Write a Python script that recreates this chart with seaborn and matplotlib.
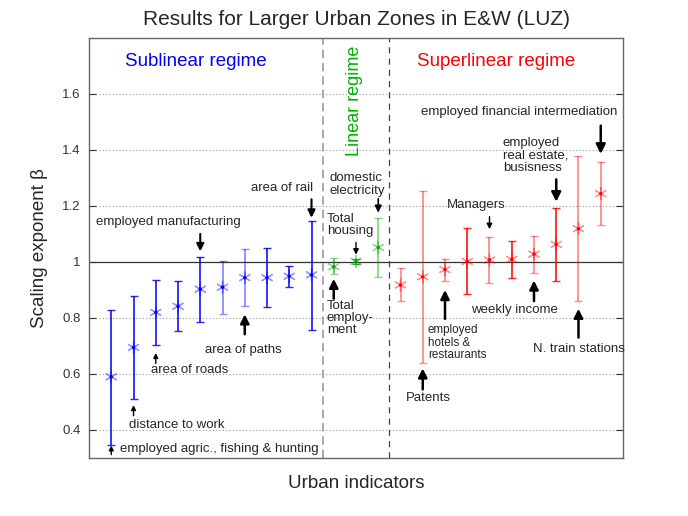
import numpy as np
import pandas as pd
import matplotlib
matplotlib.use("Agg")
import matplotlib.pyplot as plt
import seaborn as sns

# valores (23 indicadores urbanos)
indicador = list(range(1, 24))
beta = [0.59, 0.695, 0.82, 0.842, 0.903, 0.91, 0.944, 0.944, 0.949, 0.954,
        0.983, 1.002, 1.052,
        0.918, 0.947, 0.973, 1.002, 1.007, 1.009, 1.028, 1.063, 1.119, 1.244]
beta_inf = [0.347, 0.511, 0.705, 0.753, 0.785, 0.816, 0.842, 0.839, 0.911, 0.758,
            0.957, 0.992, 0.947,
            0.859, 0.64, 0.933, 0.886, 0.924, 0.943, 0.961, 0.933, 0.861, 1.132]
beta_sup = [0.83, 0.879, 0.934, 0.931, 1.019, 1.003, 1.045, 1.05, 0.986, 1.146,
            1.014, 1.012, 1.158,
            0.979, 1.252, 1.011, 1.122, 1.091, 1.075, 1.092, 1.194, 1.377, 1.357]
regimen = ["sub"] * 10 + ["lin"] * 3 + ["super"] * 10

# estilo (barras claras u oscuras como en el original)
claro = [0, 0, 0, 0, 0, 1, 1, 0, 0, 0,
         1, 0, 1,
         1, 1, 1, 0, 1, 0, 1, 0, 1, 1]
colores = {"sub": "#0000ff", "lin": "#00a000", "super": "#ff0000"}

datos = pd.DataFrame({"x": indicador, "beta": beta, "inf": beta_inf,
                      "sup": beta_sup, "regimen": regimen, "claro": claro})

sns.set_style("white")
plt.rcParams["font.family"] = ["Liberation Sans", "DejaVu Sans"]

fig = plt.figure(figsize=(6.88, 5.16), dpi=100)
ax = fig.add_axes([0.1294, 0.1124, 0.7761, 0.814])

# grilla punteada
for y in [0.4, 0.6, 0.8, 1.2, 1.4, 1.6]:
    ax.axhline(y, color="#999999", lw=0.8, ls=(0, (1, 2)), zorder=0)
ax.axhline(1.0, color="#333333", lw=0.9, zorder=1)
ax.axvline(10.5, color="#999999", lw=1.2, ls=(0, (5, 3)), zorder=1)
ax.axvline(13.5, color="#444444", lw=0.9, ls=(0, (5, 4)), zorder=1)

# barras de error
for _, fila in datos.iterrows():
    c = colores[fila["regimen"]]
    a = 0.45 if fila["claro"] else 0.85
    ax.errorbar(fila["x"], fila["beta"],
                yerr=[[fila["beta"] - fila["inf"]], [fila["sup"] - fila["beta"]]],
                fmt="none", ecolor=c, alpha=a, elinewidth=1.3, capsize=3, capthick=1)

# marcadores tipo asterisco
sns.scatterplot(data=datos, x="x", y="beta", hue="regimen", palette=colores,
                marker=(6, 2, 0), s=70, linewidth=1.0, alpha=0.4, legend=False, ax=ax)
sns.scatterplot(data=datos, x="x", y="beta", hue="regimen", palette=colores,
                marker="o", s=6, linewidth=0, legend=False, ax=ax, zorder=5)

ax.set_xlim(0, 24)
ax.set_ylim(0.3, 1.8)
ax.set_xticks([])
ax.set_yticks([0.4, 0.6, 0.8, 1, 1.2, 1.4, 1.6])
ax.set_yticklabels(["0.4", "0.6", "0.8", "1", "1.2", "1.4", "1.6"])
ax.tick_params(axis="y", direction="in", length=5, labelsize=9.5, colors="#333333",
               left=True, right=True, pad=6)
for s in ax.spines.values():
    s.set_color("#666666")
    s.set_linewidth(1.0)

ax.set_title("Results for Larger Urban Zones in E&W (LUZ)", fontsize=15, pad=9)
ax.set_xlabel("Urban indicators", fontsize=13.5, labelpad=12)
ax.set_ylabel("Scaling exponent β", fontsize=13.5, labelpad=10)

# regimenes
ax.text(4.81, 1.717, "Sublinear regime", color="blue", fontsize=13.5, ha="center", va="center")
ax.text(18.31, 1.717, "Superlinear regime", color="red", fontsize=13.5, ha="center", va="center")
ax.text(11.91, 1.576, "Linear regime", color="#00b000", fontsize=13, ha="center",
        va="center", rotation=90)

# etiquetas con flechas
fs = 9.5
ls = 1.05
def flecha(x, y0, y1, lw=1.5, ms=12):
    ax.annotate("", xy=(x, y1), xytext=(x, y0),
                arrowprops=dict(arrowstyle="-|>", color="k", lw=lw,
                                mutation_scale=ms, shrinkA=0, shrinkB=0))

ax.text(19.35, 1.537, "employed financial intermediation", fontsize=fs, ha="center", va="center")
flecha(23, 1.487, 1.386, lw=1.8, ms=14)
ax.text(18.6, 1.447, "employed\nreal estate,\nbusisness", fontsize=fs, ha="left", va="top",
        linespacing=ls)
flecha(21, 1.295, 1.215, lw=1.8, ms=14)
ax.text(17.4, 1.204, "Managers", fontsize=fs, ha="center", va="center")
flecha(18, 1.162, 1.117, lw=1.0, ms=8)
ax.text(10.8, 1.32, "domestic\nelectricity", fontsize=fs, ha="left", va="top", linespacing=ls)
flecha(13, 1.226, 1.176, lw=1.2, ms=10)
ax.text(10.7, 1.175, "Total\nhousing", fontsize=fs, ha="left", va="top", linespacing=ls)
flecha(12, 1.07, 1.026, lw=1.0, ms=8)
ax.text(10.09, 1.265, "area of rail", fontsize=fs, ha="right", va="center")
flecha(10, 1.224, 1.158, lw=1.5, ms=11)
ax.text(3.58, 1.144, "employed manufacturing", fontsize=fs, ha="center", va="center")
flecha(5, 1.10, 1.038, lw=1.5, ms=11)
ax.text(6.92, 0.687, "area of paths", fontsize=fs, ha="center", va="center")
flecha(7, 0.742, 0.813, lw=1.8, ms=13)
ax.text(4.52, 0.614, "area of roads", fontsize=fs, ha="center", va="center")
flecha(3, 0.638, 0.675, lw=1.0, ms=7)
ax.text(3.94, 0.417, "distance to work", fontsize=fs, ha="center", va="center")
flecha(2, 0.451, 0.489, lw=1.0, ms=7)
ax.text(5.85, 0.332, "employed agric., fishing & hunting", fontsize=fs, ha="center", va="center")
flecha(1, 0.312, 0.345, lw=1.0, ms=7)
ax.text(10.69, 0.866, "Total\nemploy-\nment", fontsize=fs, ha="left", va="top", linespacing=ls)
flecha(11, 0.869, 0.94, lw=1.8, ms=13)
ax.text(15.24, 0.513, "Patents", fontsize=fs, ha="center", va="center")
flecha(15, 0.545, 0.62, lw=1.8, ms=13)
ax.text(15.23, 0.778, "employed\nhotels &\nrestaurants", fontsize=8.4, ha="left", va="top",
        linespacing=ls)
flecha(16, 0.797, 0.90, lw=1.8, ms=13)
ax.text(19.14, 0.829, "weekly income", fontsize=fs, ha="center", va="center")
flecha(20, 0.86, 0.934, lw=1.8, ms=13)
ax.text(22.01, 0.688, "N. train stations", fontsize=fs, ha="center", va="center")
flecha(22, 0.73, 0.833, lw=1.8, ms=13)

fig.savefig("out.png", dpi=100)
